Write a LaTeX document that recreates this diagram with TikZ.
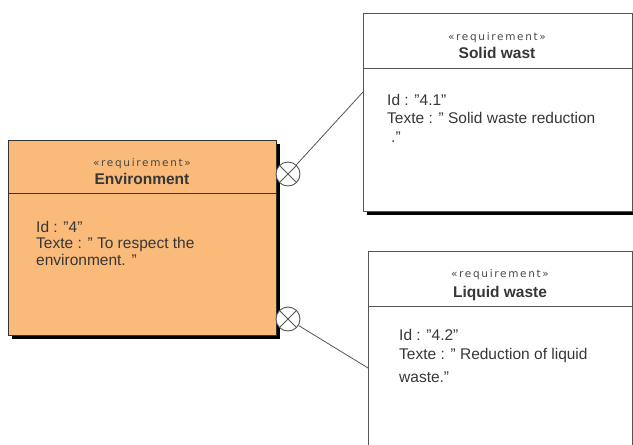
\documentclass[tikz,border=0pt]{standalone}
\usepackage{fontspec}
\setmainfont{Liberation Sans}
\newfontfamily\stereofont[LetterSpace=16]{DejaVu Sans}
\usetikzlibrary{shadows}
\definecolor{envfill}{RGB}{249,186,122}
\definecolor{inkgray}{RGB}{55,55,55}
\definecolor{linegray}{RGB}{85,85,85}
\tikzset{
  reqbox/.style={rectangle, anchor=north west, inner sep=0, draw=linegray, line width=1pt,
    drop shadow={shadow xshift=3pt, shadow yshift=-3pt, fill=black, opacity=1}},
  stereo/.style={font=\stereofont\fontsize{10.5}{12}\selectfont, text=black!72, inner sep=0},
  reqtitle/.style={font=\bfseries\fontsize{15.5}{18}\selectfont, text=inkgray, inner sep=0},
  body/.style={font=\fontsize{15.5}{18}\selectfont, text=inkgray, anchor=west, inner sep=0},
  joint/.style={circle, draw=linegray, fill=white, line width=0.9pt, minimum size=24pt, inner sep=0,
    path picture={\draw[linegray, line width=0.9pt]
      (path picture bounding box.north west) -- (path picture bounding box.south east)
      (path picture bounding box.north east) -- (path picture bounding box.south west);}},
  link/.style={draw=linegray, line width=0.8pt}
}
\begin{document}
\begin{tikzpicture}[x=1pt,y=-1pt]
\useasboundingbox[fill=white] (0,0) rectangle (633,445);
% Environment
\node[reqbox, fill=envfill, draw=black!80, minimum width=268pt, minimum height=195pt] (env) at (8,140) {};
\draw[black!80, line width=1pt] (env.west |- 0,193) -- (env.east |- 0,193);
\node[stereo] (envst) at (142,164) {«requirement»};
\node[reqtitle] (envti) at (142,179) {Environment};
\node[body] (envb1) at (36,227) {Id : "4"};
\node[body] (envb2) at (36,244) {Texte : " To respect the};
\node[body] (envb3) at (36,260) {environment. "};
% Solid wast
\node[reqbox, fill=white, minimum width=269pt, minimum height=198pt] (solid) at (363,13) {};
\draw[linegray, line width=1pt] (solid.west |- 0,68) -- (solid.east |- 0,68);
\node[stereo] (solst) at (497,38) {«requirement»};
\node[reqtitle] (solti) at (497,53) {Solid wast};
\node[body] (solb1) at (387,100) {Id : "4.1"};
\node[body] (solb2) at (387,118) {Texte : " Solid waste reduction};
\node[body] (solb3) at (387,137) {\hspace{4pt}."};
% Liquid waste
\node[reqbox, fill=white, minimum width=264pt, minimum height=200pt] (liquid) at (368,251) {};
\draw[linegray, line width=1pt] (liquid.west |- 0,306) -- (liquid.east |- 0,306);
\node[stereo] (liqst) at (500,275) {«requirement»};
\node[reqtitle] (liqti) at (500,293) {Liquid waste};
\node[body] (liqb1) at (399,335) {Id : "4.2"};
\node[body] (liqb2) at (399,355) {Texte : " Reduction of liquid};
\node[body] (liqb3) at (399,377) {waste."};
% containment connectors
\node[joint] (c1) at (288,174) {};
\node[joint] (c2) at (288,319) {};
\coordinate (s1) at (363,92);
\coordinate (l1) at (368,368);
\draw[link] (c1) -- (s1);
\draw[link] (c2) -- (l1);
\end{tikzpicture}
\end{document}
